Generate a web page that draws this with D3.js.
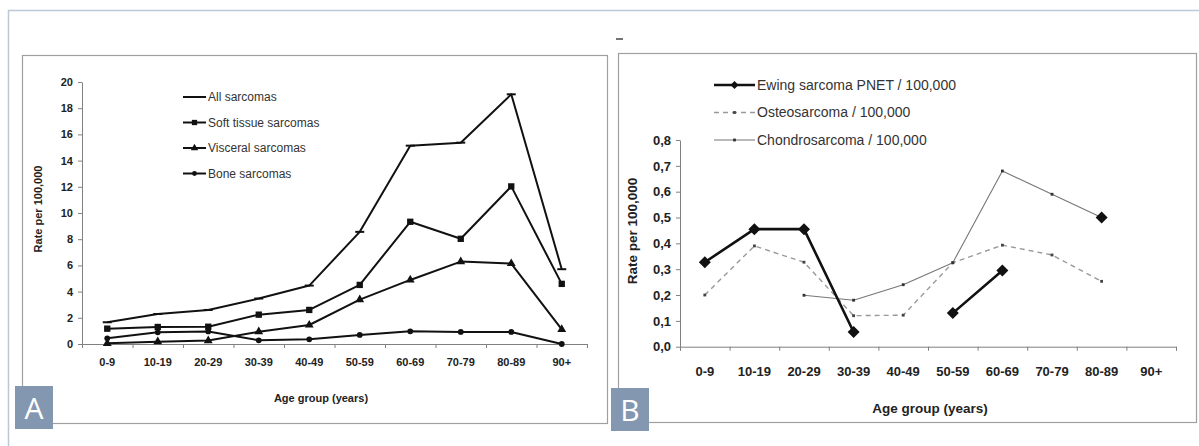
<!DOCTYPE html>
<html>
<head>
<meta charset="utf-8">
<script src="https://cdn.jsdelivr.net/npm/d3@7"></script>
<style>
  body { margin: 0; background: #fff; }
  svg { display: block; font-family: "Liberation Sans", Arial, sans-serif; }
</style>
</head>
<body>
<div id="chart"></div>
<script>
const width = 1199, height = 446;

// Age groups shared by both panels
const ageGroups = ["0-9", "10-19", "20-29", "30-39", "40-49", "50-59", "60-69", "70-79", "80-89", "90+"];

// Panel A values (rate per 100,000)
const allSarcomas = [1.66, 2.29, 2.6, 3.47, 4.46, 8.56, 15.14, 15.37, 19.06, 5.71];
const softTissue = [1.17, 1.3, 1.32, 2.24, 2.6, 4.51, 9.33, 8.03, 12.03, 4.59];
const visceral = [0.05, 0.18, 0.26, 0.94, 1.45, 3.39, 4.89, 6.29, 6.14, 1.12];
const bone = [0.43, 0.89, 0.96, 0.28, 0.36, 0.69, 0.97, 0.92, 0.92, 0.0];
const yTicksA = [0, 2, 4, 6, 8, 10, 12, 14, 16, 18, 20];

// Panel B values (null = no value)
const ewing = [0.327, 0.455, 0.455, 0.057, null, 0.13, 0.295, null, 0.5, null];
const osteo = [0.2, 0.39, 0.327, 0.12, 0.122, 0.325, 0.393, 0.355, 0.253, null];
const chondro = [null, null, 0.199, 0.18, 0.24, 0.325, 0.68, 0.59, 0.5, null];
const yTicksB = [0, 0.1, 0.2, 0.3, 0.4, 0.5, 0.6, 0.7, 0.8];

const textColor = "#222";
const axisColor = "#808080";

const svg = d3.select("#chart").append("svg")
    .attr("width", width)
    .attr("height", height);

// Outer frame of the figure
svg.append("path")
    .attr("d", `M8.5,${height}V10.5H${width}`)
    .attr("fill", "none")
    .attr("stroke", "#bcc7d8")
    .attr("stroke-width", 1.5);

// Panel frames
function frame(x, y, w, h) {
    svg.append("rect")
        .attr("x", x + 0.5).attr("y", y + 0.5)
        .attr("width", w).attr("height", h)
        .attr("fill", "none")
        .attr("stroke", "#a0a0a0")
        .attr("stroke-width", 1.2);
}
frame(22, 55, 585, 368);
frame(618, 53, 578, 369);

// small artefact mark above panel B
svg.append("line")
    .attr("x1", 616).attr("x2", 623).attr("y1", 39).attr("y2", 39)
    .attr("stroke", "#444").attr("stroke-width", 1.5);

// Draws one panel: axes and titles, returns scales
function drawAxes(cfg) {
    const g = svg.append("g");

    const xBand = d3.scaleBand().domain(ageGroups).range([cfg.left, cfg.right]);
    const xTick = d3.scaleLinear().domain([0, ageGroups.length]).range([cfg.left, cfg.right]);
    const y = d3.scaleLinear().domain(cfg.yDomain).range([cfg.bottom, cfg.top]);

    // x tick marks at band boundaries
    const xAxisTicks = g.append("g")
        .attr("transform", `translate(0,${cfg.bottom})`)
        .call(d3.axisBottom(xTick).ticks(ageGroups.length).tickFormat("").tickSize(cfg.tick).tickSizeOuter(cfg.tick));
    xAxisTicks.selectAll("path, line").attr("stroke", axisColor);

    // x labels
    const xLabels = g.append("g")
        .attr("transform", `translate(0,${cfg.xLabelY})`)
        .call(d3.axisBottom(xBand).tickSize(0).tickPadding(0));
    xLabels.select(".domain").remove();
    xLabels.selectAll("text")
        .attr("dy", "0.35em")
        .attr("fill", textColor)
        .style("font-size", cfg.xFont + "px")
        .style("font-weight", "bold")
        .style("font-family", "Liberation Sans, Arial, sans-serif");

    // y axis
    const yAxis = g.append("g")
        .attr("transform", `translate(${cfg.left},0)`)
        .call(d3.axisLeft(y).tickValues(cfg.yTicks).tickFormat(cfg.yFormat)
            .tickSize(cfg.tick).tickSizeOuter(0).tickPadding(cfg.yPad));
    yAxis.selectAll("path, line").attr("stroke", axisColor);
    yAxis.selectAll("text")
        .attr("fill", textColor)
        .style("font-size", cfg.yFont + "px")
        .style("font-weight", "bold")
        .style("font-family", "Liberation Sans, Arial, sans-serif");

    // titles
    g.append("text")
        .attr("x", cfg.xTitleX).attr("y", cfg.xTitleY)
        .attr("text-anchor", "middle").attr("dy", "0.35em")
        .attr("fill", textColor)
        .style("font-size", cfg.titleFont + "px").style("font-weight", "bold")
        .text("Age group (years)");

    g.append("text")
        .attr("transform", `translate(${cfg.yTitleX},${cfg.yTitleY}) rotate(-90)`)
        .attr("text-anchor", "middle").attr("dy", "0.35em")
        .attr("fill", textColor)
        .style("font-size", cfg.titleFont + "px").style("font-weight", "bold")
        .text("Rate per 100,000");

    return { x: d => xBand(d) + xBand.bandwidth() / 2, y };
}

// Marker shapes
function marker(sel, type, size, fill) {
    if (type === "none") return;
    if (type === "dash") {
        sel.append("line")
            .attr("x1", -size / 2).attr("x2", size / 2)
            .attr("stroke", fill).attr("stroke-width", 2);
    } else if (type === "diamond") {
        // square turned 45 degrees
        sel.append("path")
            .attr("d", d3.symbol().type(d3.symbolSquare).size(size))
            .attr("transform", "rotate(45)")
            .attr("fill", fill);
    } else {
        sel.append("path")
            .attr("d", d3.symbol().type(type).size(size))
            .attr("fill", fill);
    }
}

function drawSeries(scales, s) {
    const pts = ageGroups.map((a, i) => ({ age: a, v: s.values[i] }));
    const line = d3.line()
        .defined(d => d.v !== null)
        .x(d => scales.x(d.age))
        .y(d => scales.y(d.v));

    svg.append("path")
        .datum(pts)
        .attr("d", line)
        .attr("fill", "none")
        .attr("stroke", s.stroke)
        .attr("stroke-width", s.width)
        .attr("stroke-dasharray", s.dash || null)
        .attr("stroke-linejoin", "round");

    svg.append("g").selectAll("g")
        .data(pts.filter(d => d.v !== null))
        .join("g")
        .attr("transform", d => `translate(${scales.x(d.age)},${scales.y(d.v)})`)
        .each(function () { marker(d3.select(this), s.marker, s.size, s.markerFill); });
}

function drawLegend(items, cfg) {
    items.forEach((s, i) => {
        const y = cfg.y + i * cfg.step;
        svg.append("line")
            .attr("x1", cfg.x1).attr("x2", cfg.x2).attr("y1", y).attr("y2", y)
            .attr("stroke", s.stroke).attr("stroke-width", s.width)
            .attr("stroke-dasharray", s.dash || null);
        const m = svg.append("g").attr("transform", `translate(${(cfg.x1 + cfg.x2) / 2},${y})`);
        marker(m, s.legendMarker || s.marker, s.legendSize || s.size, s.markerFill);
        svg.append("text")
            .attr("x", cfg.x2 + 2).attr("y", y).attr("dy", "0.35em")
            .attr("fill", "#333")
            .style("font-size", cfg.font + "px")
            .text(s.name);
    });
}

// ---------- Panel A ----------
const scalesA = drawAxes({
    left: 82, right: 587, top: 82, bottom: 344,
    yDomain: [0, 20], yTicks: yTicksA, yFormat: d3.format("d"),
    tick: 4, yPad: 5, xFont: 11, yFont: 11, titleFont: 11,
    xLabelY: 362, xTitleX: 321, xTitleY: 398, yTitleX: 38, yTitleY: 209
});

const seriesA = [
    { name: "All sarcomas", values: allSarcomas, marker: "dash", legendMarker: "none", size: 9, stroke: "#111", width: 2, markerFill: "#111" },
    { name: "Soft tissue sarcomas", values: softTissue, marker: d3.symbolSquare, size: 40, legendSize: 28, stroke: "#111", width: 2, markerFill: "#111" },
    { name: "Visceral sarcomas", values: visceral, marker: d3.symbolTriangle, size: 34, legendSize: 24, stroke: "#111", width: 2, markerFill: "#111" },
    { name: "Bone sarcomas", values: bone, marker: d3.symbolCircle, size: 26, legendSize: 18, stroke: "#111", width: 2, markerFill: "#111" }
];
seriesA.forEach(s => drawSeries(scalesA, s));
drawLegend(seriesA, { x1: 183, x2: 206, y: 97, step: 25.5, font: 12 });

// ---------- Panel B ----------
const scalesB = drawAxes({
    left: 680, right: 1176, top: 140, bottom: 346.7,
    yDomain: [0, 0.8], yTicks: yTicksB, yFormat: d => d3.format(".1f")(d).replace(".", ","),
    tick: 4, yPad: 5, xFont: 13, yFont: 13, titleFont: 13.5,
    xLabelY: 371, xTitleX: 930, xTitleY: 408, yTitleX: 632, yTitleY: 231
});

const seriesB = [
    { name: "Ewing sarcoma PNET / 100,000", values: ewing, marker: "diamond", size: 72, legendSize: 32, stroke: "#111", width: 2.6, markerFill: "#111" },
    { name: "Osteosarcoma / 100,000", values: osteo, marker: d3.symbolSquare, size: 8, stroke: "#999", width: 1.4, dash: "5,4", markerFill: "#444" },
    { name: "Chondrosarcoma / 100,000", values: chondro, marker: d3.symbolSquare, size: 8, stroke: "#777", width: 1.1, markerFill: "#333" }
];
// draw thin lines first so the Ewing diamonds sit on top
[seriesB[1], seriesB[2], seriesB[0]].forEach(s => drawSeries(scalesB, s));
drawLegend(seriesB, { x1: 714, x2: 755, y: 85, step: 27.5, font: 14 });

// ---------- Panel letters ----------
[["A", 15, 386], ["B", 611, 388]].forEach(([t, x, y]) => {
    svg.append("rect")
        .attr("x", x).attr("y", y).attr("width", 38).attr("height", 43)
        .attr("fill", "#8497b0");
    svg.append("text")
        .attr("x", x + 19).attr("y", y + 22).attr("dy", "0.36em")
        .attr("text-anchor", "middle")
        .attr("fill", "#fff")
        .style("font-family", "Open Sans, sans-serif")
        .style("font-size", "30px")
        .text(t);
});
</script>
</body>
</html>
